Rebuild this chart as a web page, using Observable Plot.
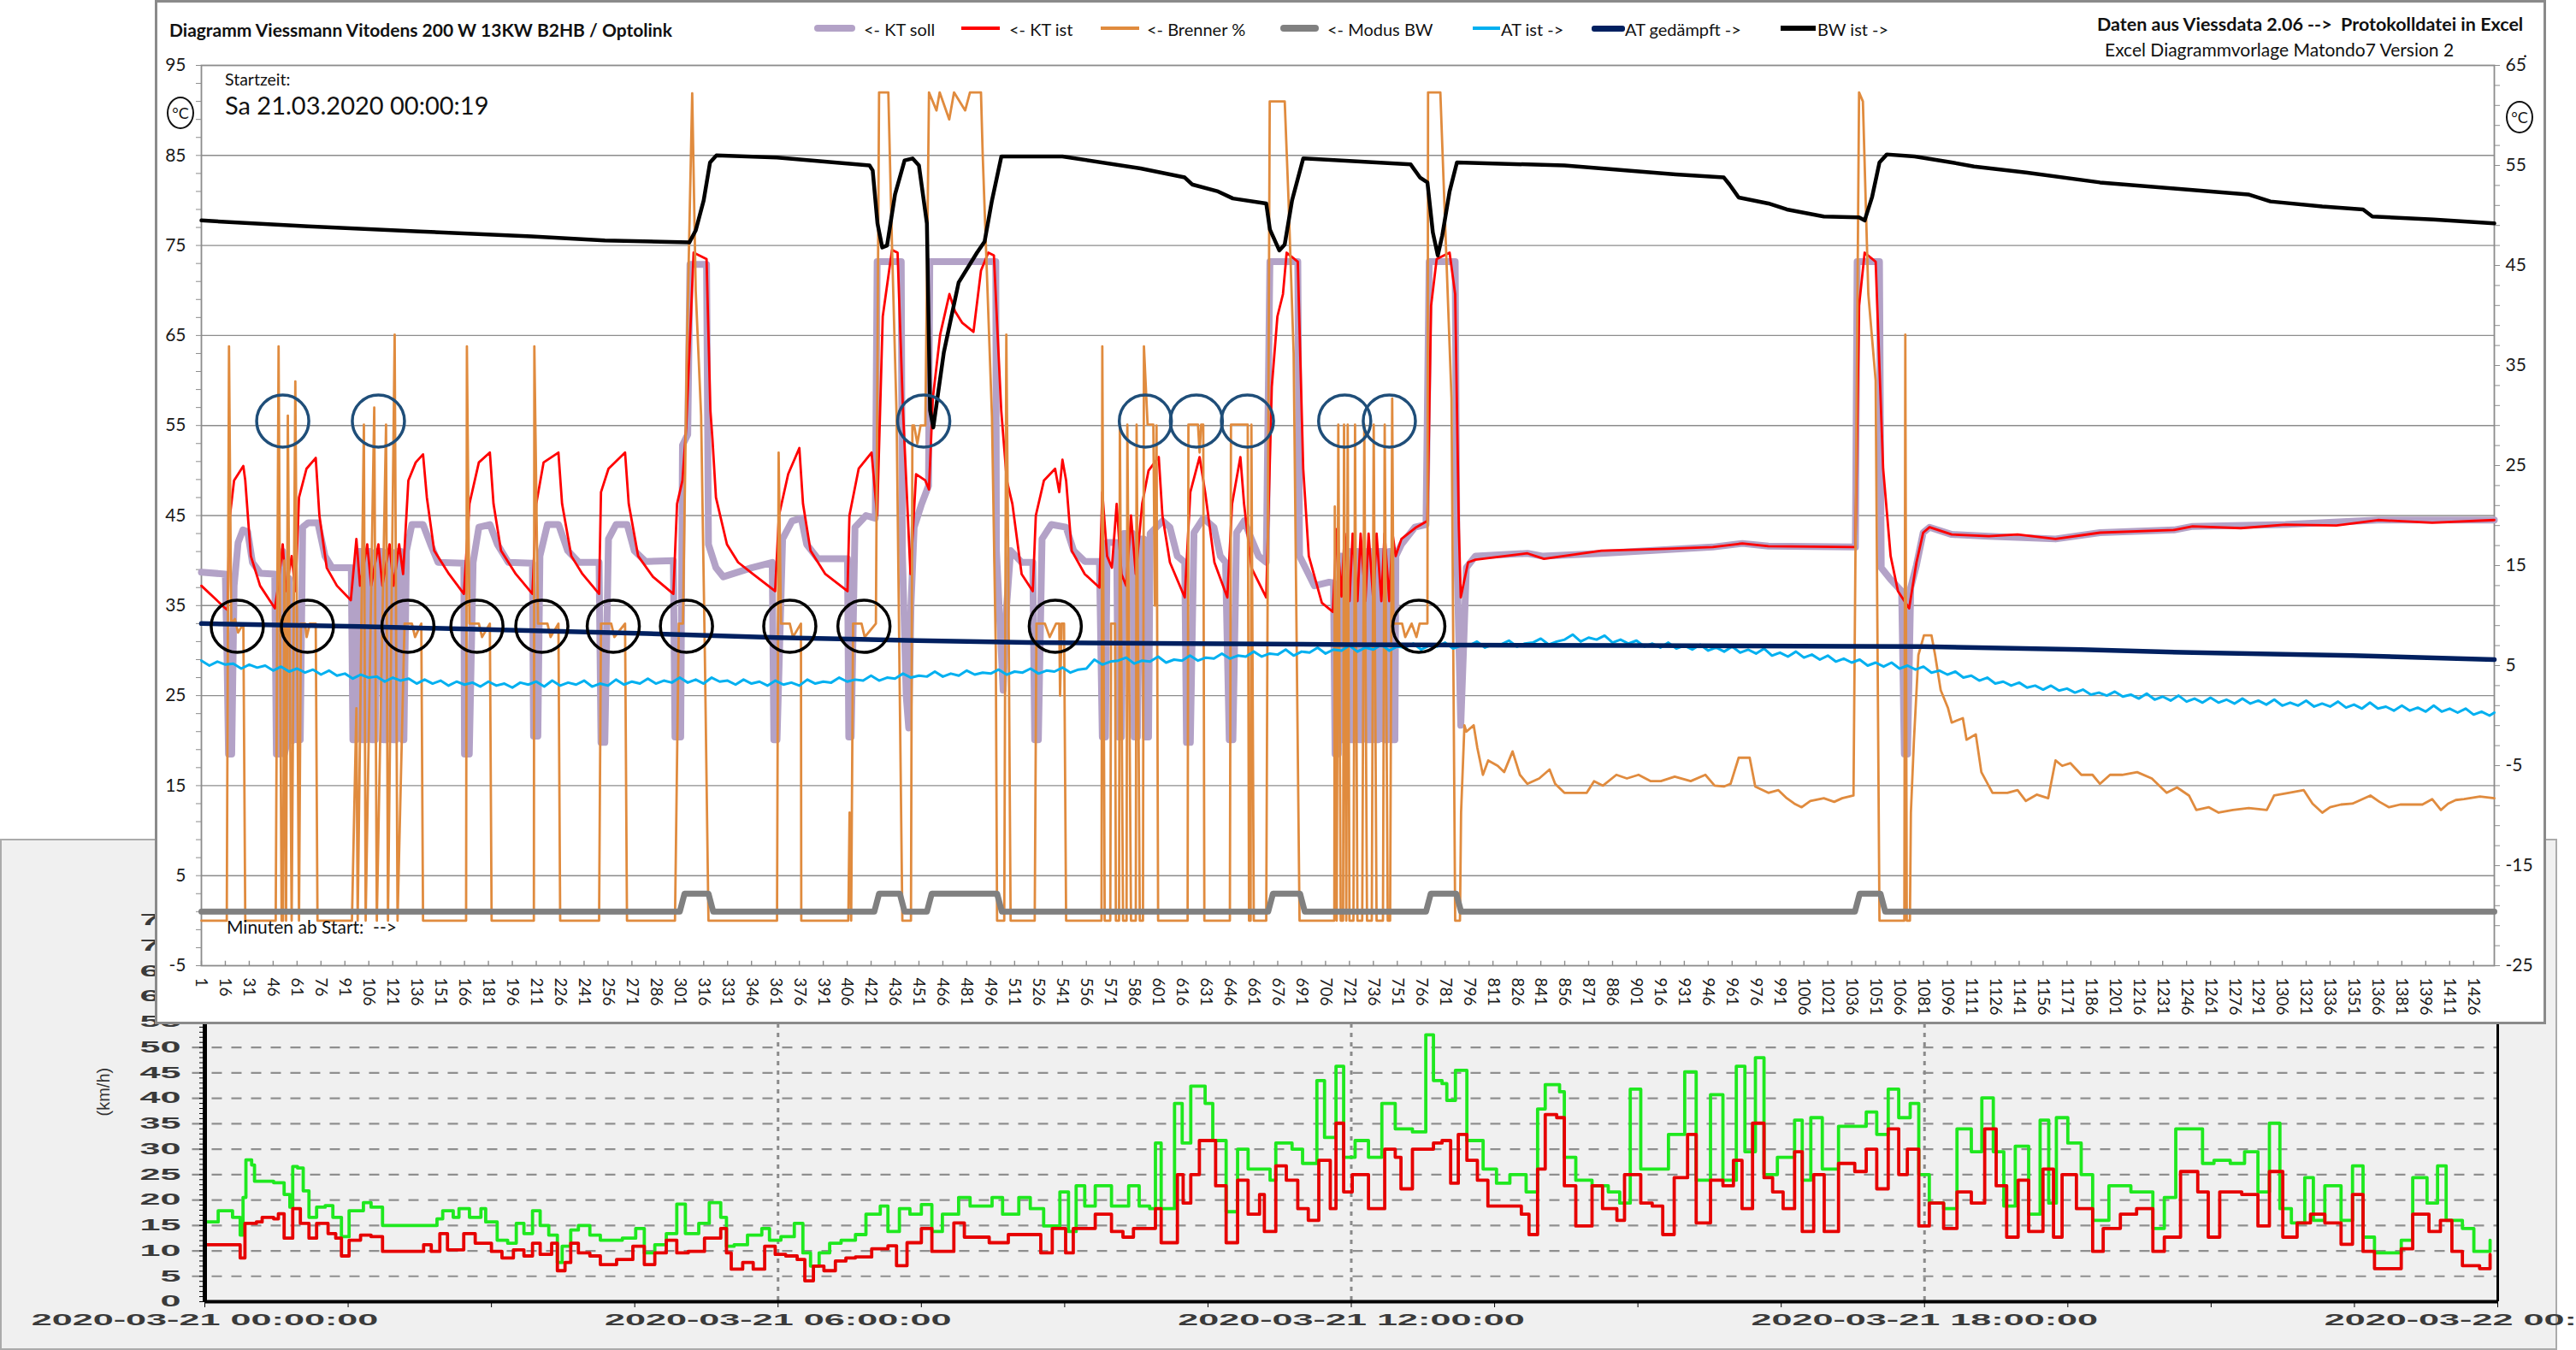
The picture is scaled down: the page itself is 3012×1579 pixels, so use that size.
<!DOCTYPE html>
<html><head><meta charset="utf-8">
<script src="https://cdn.jsdelivr.net/npm/d3@7"></script>
<script src="https://cdn.jsdelivr.net/npm/@observablehq/plot@0.6"></script>
<style>
body{margin:0;background:#fff}
#page{position:relative;width:3012px;height:1579px;overflow:hidden;background:#fff}
.t{position:absolute;white-space:pre;transform:translateY(-50%);font-family:Lato,"Open Sans",sans-serif;color:#111;line-height:1}
.sw{position:absolute}
.deg{position:absolute;width:32px;height:38px;border:2px solid #111;border-radius:50%;display:flex;align-items:center;justify-content:center;font-family:Lato,sans-serif;font-size:18px;color:#111;box-sizing:border-box}
</style></head><body>
<div id="page">
  <div style="position:absolute;left:0;top:981px;width:2986px;height:594px;background:#f0f0f0;border:2px solid #ababab"></div>
  <div id="wind" style="position:absolute;left:0;top:980px"></div>
  <div id="excel" style="position:absolute;left:181px;top:0;width:2796px;height:1198px;background:#fff"></div>
  <div style="position:absolute;left:181px;top:0;width:2796px;height:1198px;box-sizing:border-box;border:3px solid #8a8a8a;pointer-events:none"></div>

  <div class="t" style="left:198px;top:34px;font-size:21px;font-weight:bold">Diagramm Viessmann Vitodens 200 W 13KW B2HB / Optolink</div>

  <div class="sw" style="left:952px;top:29px;width:48px;height:8px;background:#b3a2c7;border-radius:4px"></div>
  <div class="t" style="left:1010px;top:34px;font-size:20px">&lt;- KT soll</div>
  <div class="sw" style="left:1124px;top:31px;width:45px;height:4px;background:#ff0000"></div>
  <div class="t" style="left:1180px;top:34px;font-size:20px">&lt;- KT ist</div>
  <div class="sw" style="left:1287px;top:31px;width:45px;height:4px;background:#e08b3e"></div>
  <div class="t" style="left:1341px;top:34px;font-size:20px">&lt;- Brenner %</div>
  <div class="sw" style="left:1497px;top:29px;width:45px;height:8px;background:#808080;border-radius:4px"></div>
  <div class="t" style="left:1552px;top:34px;font-size:20px">&lt;- Modus BW</div>
  <div class="sw" style="left:1722px;top:31px;width:32px;height:4px;background:#00b0f0"></div>
  <div class="t" style="left:1755px;top:34px;font-size:20px">AT ist -&gt;</div>
  <div class="sw" style="left:1861px;top:30px;width:39px;height:7px;background:#002060;border-radius:3px"></div>
  <div class="t" style="left:1900px;top:34px;font-size:20px">AT gedämpft -&gt;</div>
  <div class="sw" style="left:2082px;top:30px;width:41px;height:6px;background:#000"></div>
  <div class="t" style="left:2125px;top:34px;font-size:20px">BW ist -&gt;</div>

  <div class="t" style="left:2452px;top:29px;font-size:21.5px;font-weight:bold">Daten aus Viessdata 2.06 --&gt;  Protokolldatei in Excel</div>
  <div class="t" style="left:2461px;top:57px;font-size:21px">Excel Diagrammvorlage Matondo7 Version 2</div>
  <div class="t" style="left:2950px;top:58px;font-size:21px">.</div>

  <div class="t" style="left:263px;top:93px;font-size:19.5px">Startzeit:</div>
  <div class="t" style="left:263px;top:122px;font-size:29px">Sa 21.03.2020 00:00:19</div>
  <div class="t" style="left:265px;top:1083px;font-size:21px">Minuten ab Start:  --&gt;</div>
  <div class="deg" style="left:195px;top:113px">°C</div>
  <div class="deg" style="left:2930px;top:118px">°C</div>
</div>
<script>
// ---------- Heizung (Minuten ab Start) ----------
const minuteTicks = d3.range(1, 1440, 15);
const leftTicks = d3.range(-5, 96, 2);
const rightTicks = d3.range(-25, 66, 2);
const leftGrid = [5, 15, 25, 35, 45, 55, 65, 75, 85];

const ktSoll = [[1,38.7],[16,38.5],[17,30],[18,18.5],[20,18.5],[21.5,37.2],[24,42],[27,43.4],[30,43.2],[33,39.8],[38,38.6],[47,38.5],
[48,18.5],[50,18.5],[51,30],[52,41],[53,18.5],[55,20],[56,38],[57,20],[58,20],[60,35],[61,20.1],[63,20.1],[64.5,43.7],[68,44.2],[74,44.2],[78.5,40.5],[83,39.2],[95,39.2],
[96,20.1],[98,20.1],[99,41],[101,41],[102,20.1],[104,20.1],[105,41],[107,41],[108,20.1],[110,20.1],[111,41],[114,41],[115,20.1],[117,20.1],[118,41],[120,41],[121,20.1],[123,20.1],[124,41],[126,41],[127,20.1],[128,20.1],[129.6,41.1],[133,44],[140,44],[144.7,41.8],[149.4,39.8],[165.6,39.7],
[166,18.5],[169,18.5],[171.4,39.8],[175,43.7],[182,44],[186.6,41.8],[193.5,39.8],[208.6,39.7],
[209.3,20.5],[212,20.5],[213.3,40.5],[218,44],[225,44],[230.7,41.1],[237.7,39.8],[250.4,39.8],
[251.6,19.8],[254,19.8],[256.3,42.4],[261,44],[268,44],[272.5,41.1],[279.5,39.9],[297,40],
[298,20.4],[301.6,20.4],[302.7,52.8],[306,54],[307.4,72.9],[317.8,72.9],[319,41.8],[323.7,39.2],[328.3,38.2],[346,39.2],[359,39.8],
[360,20.1],[362,20.1],[365.5,42.4],[371.4,44.4],[377.2,44.7],[380.6,41.8],[387.6,40.2],[406.2,40.2],
[407,20.4],[408.5,20.4],[410.9,43.7],[417.8,45],[423.6,44.7],[424.8,73.2],[439.9,73.2],[440.6,41.1],[443,25],[444.6,21.4],[446,35],[448,43.7],[452.7,46.3],[457,48.3],[457.8,73.2],[499.2,73.2],[499.6,41.1],[503.8,25.6],[506,35],[508.5,41.1],[515.4,39.8],[522.4,39.8],
[523.6,20.1],[525.9,20.1],[528.2,42.4],[534,44],[543.3,43.7],[548,41.1],[555,39.9],[564.2,39.9],
[566,20.4],[568,20.4],[569,42],[575,42],[576,20.4],[578,20.4],[579.5,43],[585,43],[586,20.4],[588,20.4],[589,42.4],[592,42.4],[593,20.4],[595,20.4],[596,43],[603.8,44.4],[608.4,43.7],[613,40.5],[617.7,39.8],
[618.8,19.8],[621.2,19.8],[623.5,43.1],[629.3,44.7],[636,43.7],[640,40.5],[643.3,39.8],
[645.6,20.1],[647.9,20.1],[650.2,43.1],[654.9,44.4],[659.5,42.4],[664,40.5],[668.8,39.8],
[671.1,73.2],[688.6,73.2],[689.7,40.5],[699,37.2],[708.3,37.6],[711,37.5],
[712,18.5],[714,18.5],[715,40.5],[716,40.5],[717,20.1],[719,20.1],[720,41],[721,41],[722,20.1],[724,20.1],[725,41],[726,41],[727,20.1],[729,20.1],[730,41],[731,41],[732,20.1],[734,20.1],[735,41],[736,41],[737,20.1],[739,20.1],[740,41],[742,41],[743,20.1],[745,20.1],[746,41],[747,41],[748,20.1],[749.5,20.1],
[750.1,40.5],[753.6,41.8],[762,43.7],[769,44],[771,73.2],[787.3,73.2],[788.4,40.5],[790.8,21.7],[792.5,30],[794.3,39.2],[800,40.5],[832.6,40.8],[841.9,40.5],[879,40.8],[948.8,41.5],[967.4,41.9],[983.7,41.6],[1038.3,41.5],
[1039.4,73.2],[1053.4,73.2],[1054.5,39.2],[1060.4,37.9],[1067.3,36.6],[1069,18.5],[1071,18.5],[1073,37],[1076.6,39.5],[1080.8,43.1],
[1084.8,43.7],[1098.7,42.9],[1122,42.7],[1163.8,42.4],[1191.7,43.1],[1238.2,43.4],[1249.8,43.8],[1308,44],[1366,44.5],[1439,44.5]];

const ktIst = [[1,37.2],[16,34.7],[17.5,34.5],[18.5,44.4],[21.5,48.9],[27.3,50.5],[28.5,48.9],[32,40.5],[37.8,37.2],[47.1,34.7],
[49,37],[52,41.8],[54,36.6],[57.6,40.5],[60,36.6],[62.2,47],[66.9,50.2],[72.7,51.4],[75,45],[79.6,39.2],[86,37.2],[94.7,35.6],
[98.2,42.4],[100.5,37.2],[105,41.8],[107.5,37.2],[112,41.8],[114.5,37.2],[119,41.8],[121.5,37.2],[125,41.8],[127.5,38.5],[130.8,48.9],[135.4,50.9],[140,51.8],[142.4,47],[147,41.1],[156.3,38.5],[165.6,36.3],
[169.1,46.3],[175,50.9],[181.9,52],[184.2,46.3],[188.9,41.1],[198.2,38.5],[208.6,36.3],
[211,46.3],[215.6,50.9],[224.9,52],[227.2,46.3],[233,40.5],[240,38.5],[250.4,36.3],
[251.6,47.6],[256.3,50.2],[266.7,52],[269,46.3],[274.9,40.5],[284.2,38.2],[297,36.3],
[299.3,46.3],[302.7,48.9],[305,54.7],[309.7,74.2],[317.8,73.5],[320.2,56.7],[321.5,53.5],[323.7,47],[330.6,41.8],[337.6,39.8],[346.9,38.5],[360.8,36.6],
[363.2,45],[369,49.6],[376,52.5],[378.3,46.3],[383,41.1],[392.3,38.5],[406.2,36.6],
[407.4,45],[413.2,50.2],[421.3,52],[424.8,45],[428.3,67.1],[434.1,74.5],[437.6,74.2],[441,56.7],[445.7,38.5],[449.2,49.6],[455,48.9],[457.3,47.9],[459.7,58],[464.3,65.1],[470.1,69.6],[473.6,67.7],[478.2,66.4],[485.2,65.4],[489.9,72.2],[494.5,74.2],[498,73.9],[502.6,56.7],[506.1,48.9],[509.6,46.3],[515.4,38.5],[522.4,36.6],
[524.3,45],[529.4,48.9],[536.4,50.2],[539,47.6],[541,51.2],[543.3,48.9],[546.8,41.1],[555,38.5],[564.2,37],
[566,47.6],[569,40.5],[572,39.2],[575,46.3],[578,38.5],[581,37.2],[584,45],[587,38.5],[591,46.3],[595,50],[601.4,51.5],[603.7,45],[608.4,39.8],[617.7,35.9],
[621.2,47.6],[627,51.5],[630.5,47.6],[636.3,39.8],[644.4,35.9],
[647.4,46.3],[652.6,51.5],[654.9,46.3],[659.5,39.2],[668.8,35.9],
[672.3,59.3],[675.8,67.1],[679.3,69.6],[681.6,74.2],[688.6,73.2],[692,50.2],[695.5,40.5],[703.7,35.3],[710.6,34.3],
[713,43.5],[716,36],[718,43],[721,35.5],[723,43],[726,35.5],[728,43],[731,35.5],[733,43],[736,35.5],[738,43],[741,35.5],[743,43],[746,35.5],[748,43],[750,40.5],[753.6,42.4],[762.9,43.7],[769.9,44.4],
[772.2,68.3],[775.7,73.5],[783.8,74.2],[787.3,69.6],[789.6,43.7],[790.8,35.9],[795.4,39.8],[800,40.1],[832.6,40.8],[843,40.2],[879,41.1],[920,41.3],[948.8,41.5],[967.4,41.9],[983.7,41.6],[1038.3,41.5],
[1040.6,68.3],[1044.1,74.2],[1051,73.2],[1055.7,50.2],[1060.4,40.5],[1065,36.6],[1072,34.7],[1076.6,39.8],[1080.8,43.1],
[1084.8,43.7],[1098.7,42.9],[1122,42.7],[1140,42.9],[1163.8,42.4],[1191.7,43.1],[1238.2,43.4],[1249.8,43.8],[1280,43.6],[1308,44],[1340,43.9],[1366,44.5],[1400,44.2],[1439,44.5]];

const brenner = [[1,0],[16.9,0],[18.3,63.8],[19.7,33],[22,33.5],[24,32],[27.3,33],[28.5,0],
[47.6,0],[49.4,63.8],[51.3,0],[52.2,0],[53,40],[54.1,0],[55.2,56.1],[57.6,0],[59.9,59.9],[62.2,0],[63.4,33],[66,33],[67,31.5],[69,33],[72.7,33],[73.8,0],
[95.4,0],[98.2,23.6],[99,0],[102.9,55.1],[104,0],[109.4,57],[111,0],[116.8,55.1],[118,0],[122.2,65.1],[124,0],[128.4,33],[133,33],[135,31.5],[138.9,33],[140,0],
[167,0],[167.5,63.8],[169.1,33],[175,33],[177,31.5],[181.9,33],[183,0],
[209.5,0],[209.8,63.8],[212.1,33],[218,33],[220,31.5],[224.9,33],[226,0],
[250.4,0],[251.6,33],[258,33],[260,31.5],[266.7,33],[267.9,0],
[298,0],[300.4,33],[303,33],[305.5,63.8],[308.8,91.9],[311,70],[314.4,56.1],[316.7,30],[319,0],
[362,0],[363,52],[364.5,33],[370,33],[372,31.5],[377,33],[377.2,0],
[406.7,0],[407.5,12],[408.5,0],[409.7,33],[415,33],[417,31.5],[424,33],[426,92],[431.8,92],[434.1,75],[437,56],[440.6,0],
[446,0],[446.9,55],[448,55],[450,53],[452,55],[455,55],[457.3,92],[462,90],[464,92],[470,89],[473,92],[480,90],[483,92],[489.9,92],[491,85],[496.8,56],[499.2,30],[500,0],
[504.5,0],[505.8,65.1],[507,40],[508.5,0],
[523.6,0],[524.7,33],[530,33],[533,31.5],[537,33],[539,33],[539.5,25],[540.5,33],[542,33],[543.3,0],
[565.5,0],[566,63.8],[567.5,0],[571,0],[571.5,33],[574,33],[574.5,0],[576.5,0],[577,55.1],[579,0],[581.2,0],[581.7,55.1],[584,0],[587,0],[587.5,55.1],[589.5,0],[591.5,0],[592.1,63.8],[594.4,55.1],[598,55.1],[599,35],[600,55],[601,0],
[619.5,0],[620,55.1],[626,55.1],[627,52],[628,55.1],[629.3,55.1],[630,0],
[646,0],[646.7,55.1],[652,55.1],[657.2,55.1],[658,0],[659,0],[659.5,55.1],[661,0],
[668.8,0],[671,91],[674.6,91],[680.4,91],[682.8,80],[686,63],[689.7,0],
[711.5,0],[711.8,46],[713,0],[714,55.1],[715.5,0],[717,0],[717.6,55.1],[719,0],
[719.9,55.1],[721,0],[723.5,0],[724.5,55.1],[726,0],[729,0],[730.3,55.1],[732,0],[735,0],[736.2,55.1],[738,0],[742,0],[743.1,55.1],[745,0],[746.5,0],[747.8,58],
[748.6,33],[754,33],[756,31.5],[760,33],[763,31.5],[765,33],[769.9,33],[770.3,92],[778,92],[785,58],[787.3,0],[790.3,0],[791,12],[793.1,21.7],[794.3,21],[798.9,21.7],[801.2,19.2],[804.7,16.2],[808,17.8],[814,17.2],[818,16.5],[823.3,18.8],[827.9,16.2],[832.6,15.2],[840,15.8],[846.5,16.8],[850,15.2],[855.8,14.2],[862,14.2],[869.8,14.2],[874.4,15.5],[880,15],[888.4,16.2],[895,15.8],[902.3,16.2],[910,15.5],[916.3,15.5],[925,16],[935,15.5],[944.2,16.2],[950,15],[955.8,14.9],[960,15.2],[965.1,18.1],[972,18.1],[975.5,14.9],[983.7,14.2],[990,14.5],[995.3,13.6],[1000,13],[1004.6,12.6],[1010,13.3],[1018.5,13.6],[1025,13.2],[1030,13.6],[1037.1,13.9],
[1038.3,40],[1040.6,92],[1043,91],[1046.4,69.6],[1051,60],[1053.4,0],[1069,0],[1069.6,65.1],[1070.5,0],[1072.5,0],[1073.1,12],[1075,20],[1077.8,29.5],
[1081.3,31.7],[1086,31.7],[1088.3,29.5],[1091.8,25.6],[1096.4,23.6],[1098.7,22],[1105.7,22.5],[1108,20.1],[1113.8,20.7],[1117.3,16.5],[1124.3,14.2],[1133.6,14.2],[1140,14.5],[1145.2,13.3],[1152,14],[1159.2,13.6],[1163.8,17.8],[1168,17.2],[1173.1,17.5],[1180,16.2],[1187,16.2],[1191.7,15.2],[1198,16.2],[1205.6,16.2],[1215,16.5],[1224.2,15.8],[1233.5,14.2],[1240,14.8],[1247.5,13.9],[1252.1,12.3],[1260,12.6],[1266.1,12],[1275,12.3],[1285,12.5],[1296.3,12.3],[1300.9,13.9],[1310,14.2],[1319.5,14.5],[1325,13],[1331.1,12],[1336,12.6],[1342.8,12.9],[1350,13],[1361.3,13.9],[1367,13.2],[1373,12.6],[1380,12.9],[1393.9,12.9],[1400,13.5],[1405.5,12.3],[1410,13],[1414.8,13.4],[1420,13.5],[1430,13.8],[1439,13.6]];

const modusBW = [[1,1],[301,1],[304,3],[319,3],[322,1],[423,1],[426,3],[439,3],[442,1],[456,1],[459,3],[500,3],[503,1],[670,1],[673,3],[690,3],[693,1],[769,1],[772,3],[788,3],[791,1],[1038,1],[1041,3],[1054,3],[1057,1],[1439,1]];

const atIst = [[1,5.5],[6,5.0],[11,5.4],[16,5.1],[21,5.2],[26,4.7],[31,5.1],[36,4.8],[41,5.0],[46,4.5],[51,4.9],[56,4.4],[61,4.7],[66,4.3],[71,4.6],[76,4.1],[81,4.5],[86,4.0],[91,4.2],[96,3.7],[101,4.1],[106,3.8],[111,3.9],[116,3.4],[121,3.8],[126,3.5],[131,3.7],[136,3.2],[141,3.6],[146,3.2],[151,3.5],[156,3.0],[161,3.4],[166,3.1],[171,3.3],[176,2.9],[181,3.4],[186,3.0],[191,3.2],[196,2.8],[201,3.3],[206,3.1],[211,3.4],[216,2.9],[221,3.5],[226,3.0],[231,3.3],[236,3.1],[241,3.5],[246,2.9],[251,3.2],[256,3.0],[261,3.6],[266,3.1],[271,3.4],[276,3.2],[281,3.7],[286,3.2],[291,3.5],[296,3.3],[301,3.8],[306,3.3],[311,3.6],[316,3.2],[321,3.8],[326,3.4],[331,3.5],[336,3.1],[341,3.6],[346,3.2],[351,3.4],[356,3.0],[361,3.5],[366,3.1],[371,3.3],[376,3.0],[381,3.6],[386,3.2],[391,3.4],[396,3.3],[401,3.8],[406,3.4],[411,3.6],[416,3.5],[421,4.0],[426,3.5],[431,3.8],[436,3.7],[441,4.2],[446,3.8],[451,4.0],[456,3.9],[461,4.4],[466,3.9],[471,4.2],[476,4.0],[481,4.5],[486,4.1],[491,4.3],[496,4.2],[501,4.6],[506,4.1],[511,4.4],[516,4.3],[521,4.7],[526,4.2],[531,4.5],[536,4.4],[541,4.8],[546,4.3],[551,4.6],[556,4.7],[561,5.6],[566,5.1],[571,5.4],[576,5.5],[581,5.8],[586,5.2],[591,5.5],[596,5.4],[601,5.9],[606,5.3],[611,5.6],[616,5.5],[621,6.0],[626,5.5],[631,5.8],[636,5.7],[641,6.2],[646,5.7],[651,6.0],[656,5.9],[661,6.4],[666,5.9],[671,6.2],[676,6.1],[681,6.6],[686,6.0],[691,6.4],[696,6.3],[701,6.8],[706,6.2],[711,6.6],[716,6.5],[721,7.0],[726,6.4],[731,6.8],[736,6.6],[741,7.1],[746,6.5],[751,6.9],[756,6.8],[761,7.2],[766,6.6],[771,7.0],[776,6.9],[781,7.3],[786,6.7],[791,7.0],[796,7.0],[801,7.4],[806,6.8],[811,7.1],[816,7.1],[821,7.5],[826,6.9],[831,7.2],[836,7.3],[841,7.7],[846,7.1],[851,7.4],[856,7.6],[861,8.1],[866,7.4],[871,7.8],[876,7.6],[881,8.0],[886,7.3],[891,7.6],[896,7.2],[901,7.5],[906,6.9],[911,7.2],[916,6.8],[921,7.3],[926,6.7],[931,7.0],[936,6.6],[941,7.1],[946,6.5],[951,6.8],[956,6.4],[961,6.9],[966,6.3],[971,6.6],[976,6.2],[981,6.7],[986,6.0],[991,6.3],[996,5.9],[1001,6.4],[1006,5.8],[1011,6.1],[1016,5.6],[1021,6.0],[1026,5.4],[1031,5.7],[1036,5.3],[1041,5.6],[1046,5.0],[1051,5.3],[1056,4.9],[1061,5.3],[1066,4.7],[1071,5.0],[1076,4.6],[1081,4.9],[1086,4.3],[1091,4.5],[1096,4.1],[1101,4.4],[1106,3.8],[1111,4.0],[1116,3.5],[1121,3.8],[1126,3.2],[1131,3.4],[1136,3.0],[1141,3.3],[1146,2.8],[1151,3.0],[1156,2.6],[1161,3.0],[1166,2.5],[1171,2.7],[1176,2.3],[1181,2.6],[1186,2.1],[1191,2.3],[1196,2.0],[1201,2.4],[1206,1.9],[1211,2.1],[1216,1.7],[1221,2.2],[1226,1.6],[1231,1.9],[1236,1.5],[1241,2.0],[1246,1.4],[1251,1.7],[1256,1.3],[1261,1.8],[1266,1.3],[1271,1.6],[1276,1.2],[1281,1.7],[1286,1.2],[1291,1.5],[1296,1.1],[1301,1.6],[1306,1.0],[1311,1.3],[1316,1.0],[1321,1.5],[1326,0.9],[1331,1.2],[1336,0.9],[1341,1.4],[1346,0.8],[1351,1.1],[1356,0.7],[1361,1.3],[1366,0.7],[1371,0.9],[1376,0.5],[1381,1.0],[1386,0.5],[1391,0.8],[1396,0.4],[1401,1.0],[1406,0.4],[1411,0.7],[1416,0.3],[1421,0.7],[1426,0.1],[1431,0.4],[1436,0.0],[1439,0.3]];

const atGedaempft = [[1,9.2],[100,8.9],[184,8.6],[280,8.2],[362,7.8],[450,7.5],[520,7.3],[620,7.2],[722,7.1],[900,7.0],[1080,6.9],[1180,6.6],[1250,6.3],[1350,6.0],[1439,5.6]];

const bwIst = [[1,49.5],[68,48.9],[138,48.4],[208,47.9],[254,47.5],[307,47.3],[311,48.5],[316,51.5],[320,55.3],[324,56.0],[362,55.8],[420,55.0],[422,54.5],[425,49.2],[428,46.8],[431,47.0],[436,52.1],[442,55.5],[447,55.7],[451,55.0],[456,49.2],[457.5,35],[458,30.5],[460,28.8],[466.6,36.3],[475.9,43.3],[487.5,46.3],[492.2,47.4],[496.8,51.5],[502.7,55.9],[541,55.9],[590,54.7],[617.7,53.8],[622.3,53.1],[638.6,52.4],[647.9,51.7],[668.8,51.2],[671.1,48.6],[677,46.5],[680.4,47.1],[685,51.5],[692,55.7],[759.4,55.1],[765.2,53.8],[769.9,53.3],[773.3,48.3],[776.4,46.0],[779.2,48.0],[783.8,52.4],[788.4,55.3],[855.8,55.0],[925.6,54.1],[955.8,53.8],[959.3,53.1],[965.1,51.8],[983.7,51.2],[995.3,50.6],[1018.5,49.9],[1040.6,49.8],[1044.1,49.5],[1048.7,51.8],[1053.4,55.3],[1058,56.1],[1075.5,55.9],[1098.7,55.3],[1112.7,54.9],[1145.2,54.3],[1191.7,53.3],[1238.2,52.7],[1284.7,52.1],[1298.6,51.4],[1331.1,50.9],[1356.7,50.6],[1362.5,49.9],[1400.9,49.6],[1439,49.2]];

const navyRings = [52, 112, 454, 593, 625, 657, 718, 746];
const navyRingLevel = 55.5;
const blackRings = [23.5, 67.5, 130.5, 173.8, 214.5, 259.3, 305.2, 370, 416.5, 536.5, 764.5];
const blackRingLevel = 32.7;

// ---------- Wind (Stunden ab 2020-03-21 00:00) ----------
const windXTicks = d3.range(0, 24.01, 1.5);
const windYTicks = d3.range(0, 76, 5);
const windYMinor = d3.range(0, 76, 1);
const windVGrid = [6, 12, 18];
const windLabels = {0: "2020-03-21 00:00:00", 6: "2020-03-21 06:00:00", 12: "2020-03-21 12:00:00", 18: "2020-03-21 18:00:00", 24: "2020-03-22 00:00:00"};

const gust = [[0,15.7],[0.14,17.9],[0.29,16.6],[0.37,13.1],[0.40,20.5],[0.43,27.9],[0.49,26.9],[0.52,23.7],[0.72,23.4],[0.83,21.1],[0.89,18.6],[0.92,26.6],[0.97,26.3],[1.03,21.8],[1.09,16.6],[1.17,18.6],[1.26,18.9],[1.34,16.6],[1.43,12.8],[1.51,17.9],[1.66,19.5],[1.74,18.6],[1.86,15.0],[2.2,15.0],[2.43,16.3],[2.49,17.9],[2.6,16.6],[2.66,18.3],[2.77,16.6],[2.89,18.3],[2.94,15.7],[3.06,12.1],[3.17,11.5],[3.26,15.4],[3.34,13.4],[3.43,17.9],[3.51,15.0],[3.6,13.1],[3.69,7.7],[3.74,10.9],[3.83,14.1],[3.91,15.0],[4.03,13.1],[4.14,12.1],[4.37,12.5],[4.51,14.4],[4.6,9.6],[4.71,11.2],[4.83,13.4],[4.94,19.2],[5.03,13.4],[5.17,15.4],[5.28,19.5],[5.4,16.6],[5.46,10.9],[5.54,11.2],[5.68,13.1],[5.83,14.4],[5.91,12.1],[6.03,12.8],[6.17,15.4],[6.26,9.6],[6.34,7.0],[6.43,9.6],[6.54,11.5],[6.66,12.1],[6.81,13.2],
[6.92,17.2],[7.07,18.8],[7.15,13.8],[7.27,18.3],[7.38,17.2],[7.5,19.1],[7.61,13.8],[7.72,17.2],[7.89,20.5],[8.01,18.8],[8.24,20.5],[8.35,17.2],[8.52,20.5],[8.64,18.3],[8.78,14.9],[8.95,21.6],[9.04,13.8],[9.12,22.8],[9.21,18.8],[9.32,22.8],[9.49,18.8],[9.67,22.8],[9.78,18.8],[9.89,18.3],[9.95,31.2],[10.01,18.3],[10.15,39.0],[10.23,31.2],[10.32,42.4],[10.47,39.0],[10.55,31.7],[10.69,17.7],[10.81,30.0],[10.92,26.1],[11.04,26.1],[11.15,23.9],[11.21,31.2],[11.38,30.0],[11.49,27.2],[11.64,43.5],[11.72,32.3],[11.84,46.3],[11.92,28.4],[12.04,31.7],[12.18,28.4],[12.32,39.0],[12.46,34.0],[12.64,33.4],[12.78,52.5],[12.86,43.5],[12.95,42.9],[13.0,39.6],[13.09,45.5],[13.21,31.7],[13.38,26.1],[13.52,23.3],[13.66,25.0],[13.83,21.6],[13.95,37.9],[14.03,42.7],[14.18,41.3],[14.23,28.4],[14.35,23.9],[14.52,22.8],[14.69,21.6],[14.81,19.4],[14.92,41.8],[15.03,26.1],[15.2,26.1],[15.32,32.9],[15.49,45.2],[15.61,23.9],[15.76,40.7],
[15.89,23.9],[16.03,46.3],[16.12,29.5],[16.23,48.0],[16.32,25.0],[16.46,28.4],[16.64,35.7],[16.72,23.9],[16.81,36.2],[16.93,26.1],[17.1,34.5],[17.27,34.5],[17.39,37.3],[17.5,32.9],[17.62,41.8],[17.73,36.2],[17.85,39.0],[17.94,25.0],[18.05,19.4],[18.2,18.3],[18.34,34.0],[18.49,29.5],[18.6,40.1],[18.72,29.5],[18.83,18.8],[18.95,30.6],[19.09,17.2],[19.21,35.7],[19.3,19.4],[19.38,36.2],[19.5,31.2],[19.64,25.0],[19.76,16.0],[19.93,22.8],[20.16,21.6],[20.39,14.4],[20.51,20.5],[20.63,34.0],[20.8,34.0],[20.91,27.2],[21.03,27.8],[21.2,27.2],[21.35,29.5],[21.49,21.6],[21.61,35.1],[21.72,18.3],[21.84,15.5],[21.98,24.4],[22.07,16.0],[22.19,22.8],[22.36,16.0],[22.48,26.7],[22.59,12.7],[22.71,9.6],[22.88,9.6],[22.99,12.1],[23.11,24.4],[23.26,19.4],[23.37,26.7],[23.46,16.0],[23.63,14.4],[23.75,9.9],[23.92,12.1]];

const mean = [[0,11.2],[0.32,11.2],[0.37,8.6],[0.42,15.4],[0.54,15.7],[0.6,16.6],[0.72,16.3],[0.77,17.3],[0.83,12.5],[0.92,18.3],[1.0,15.4],[1.09,12.5],[1.17,15.4],[1.29,13.4],[1.37,12.5],[1.43,9.0],[1.51,12.1],[1.63,13.1],[1.74,12.8],[1.86,9.9],[2.2,9.9],[2.29,11.2],[2.37,9.9],[2.46,13.4],[2.54,10.2],[2.71,13.4],[2.83,11.5],[3.0,9.9],[3.11,8.6],[3.23,10.2],[3.34,9.0],[3.43,11.5],[3.51,9.3],[3.63,11.5],[3.69,6.1],[3.77,7.7],[3.83,11.5],[3.91,9.6],[4.03,9.0],[4.14,7.3],[4.31,8.3],[4.48,10.9],[4.6,7.3],[4.71,9.6],[4.83,12.1],[4.94,9.6],[5.06,9.9],[5.23,12.5],[5.4,14.4],[5.46,9.6],[5.51,6.4],[5.63,7.7],[5.74,6.4],[5.86,10.9],[5.97,9.3],[6.08,9.0],[6.2,8.3],[6.28,4.1],[6.37,7.0],[6.48,6.1],[6.6,8.0],[6.71,8.6],[6.81,8.8],
[6.98,10.4],[7.15,11.0],[7.24,7.1],[7.35,11.6],[7.5,14.4],[7.61,9.9],[7.84,15.5],[7.95,12.7],[8.12,12.7],[8.21,11.6],[8.41,13.2],[8.64,13.2],[8.75,9.6],[8.87,14.4],[9.01,9.6],[9.09,14.4],[9.32,17.2],[9.49,13.8],[9.61,12.7],[9.72,14.4],[9.87,14.4],[9.95,18.3],[10.01,11.6],[10.15,11.6],[10.18,25.0],[10.24,19.4],[10.32,25.0],[10.41,31.7],[10.47,31.7],[10.58,22.8],[10.69,11.6],[10.81,23.9],[10.92,17.2],[11.04,21.1],[11.09,13.8],[11.21,26.7],[11.32,23.9],[11.44,18.3],[11.55,16.0],[11.66,27.8],[11.78,18.3],[11.84,35.1],[11.92,21.6],[12.01,25.0],[12.18,18.3],[12.35,30.0],[12.46,28.4],[12.52,22.2],[12.64,30.0],[12.86,31.2],[12.95,31.7],[13.04,23.3],[13.12,32.9],[13.21,27.8],[13.32,23.9],[13.43,18.8],[13.66,18.8],[13.78,17.2],[13.86,13.2],[13.95,26.1],[14.03,36.8],[14.15,36.2],[14.23,22.8],[14.35,14.9],[14.52,22.8],[14.63,18.3],[14.78,16.0],[14.86,25.0],[15.03,19.4],[15.15,18.8],[15.26,13.2],[15.38,24.4],[15.52,32.9],[15.61,15.5],[15.76,23.9],
[15.89,22.8],[16.0,27.8],[16.09,18.3],[16.2,35.1],[16.32,24.4],[16.41,21.6],[16.52,18.3],[16.64,29.5],[16.72,13.8],[16.84,25.0],[16.95,13.8],[17.1,27.2],[17.27,25.6],[17.39,30.0],[17.5,22.2],[17.62,34.0],[17.73,25.0],[17.82,30.0],[17.94,14.9],[18.05,19.4],[18.2,14.4],[18.34,21.6],[18.49,19.4],[18.63,34.0],[18.75,22.8],[18.86,12.7],[18.98,23.9],[19.09,13.8],[19.24,26.1],[19.35,12.7],[19.44,25.0],[19.59,18.3],[19.76,9.9],[19.87,14.4],[20.05,17.2],[20.22,18.3],[20.39,9.9],[20.51,12.7],[20.68,25.6],[20.86,21.6],[20.97,12.7],[21.09,21.6],[21.32,21.1],[21.49,14.9],[21.61,25.6],[21.75,12.7],[21.9,15.5],[22.04,17.2],[22.19,15.5],[22.36,11.3],[22.48,21.1],[22.59,9.9],[22.71,6.5],[22.88,6.5],[22.99,10.4],[23.11,17.2],[23.28,13.8],[23.4,16.0],[23.52,9.9],[23.63,7.1],[23.81,6.5],[23.92,9.3]];

// ---------- Heizungsdiagramm ----------
const toLeft = r => (r + 25) * 100 / 90 - 5;
const fromLeft = l => (l + 5) * 90 / 100 - 25;
const XY = {x: d => d[0], y: d => d[1]};
const XYR = {x: d => d[0], y: d => toLeft(d[1])};
const FONT = "Lato, 'Open Sans', sans-serif";

const main = Plot.plot({
  width: 2796, height: 1198,
  marginLeft: 54, marginRight: 61, marginTop: 76, marginBottom: 69,
  x: {domain: [1, 1439]},
  y: {domain: [-5, 95]},
  style: {fontFamily: FONT, background: "transparent", color: "#1a1a1a", overflow: "visible"},
  marks: [
    Plot.ruleY(leftGrid, {stroke: "#8c8c8c", strokeWidth: 1.4}),
    Plot.frame({stroke: "#8c8c8c", strokeWidth: 1.8}),
    Plot.ruleX(minuteTicks, {y1: -5, y2: -4.5, stroke: "#8c8c8c", strokeWidth: 1.4}),
    Plot.axisX({ticks: minuteTicks, tickSize: 0, tickRotate: 90, tickPadding: 14, fontSize: 19, label: null, tickFormat: d => String(d)}),
    Plot.axisY({anchor: "left", ticks: leftTicks, tickSize: 6, tickPadding: 12, fontSize: 21, label: null, stroke: "#8c8c8c",
      tickFormat: d => (d + 5) % 10 === 0 ? String(d) : ""}),
    Plot.axisY({anchor: "right", ticks: rightTicks.map(toLeft), tickSize: 6, tickPadding: 7, fontSize: 21, label: null, stroke: "#8c8c8c",
      tickFormat: d => { const r = Math.round(fromLeft(d)); return (r + 25) % 10 === 0 ? String(r) : ""; }}),
    Plot.line(ktSoll, {...XY, stroke: "#b3a2c7", strokeWidth: 8, strokeLinejoin: "round"}),
    Plot.line(ktIst, {...XY, stroke: "#ff0000", strokeWidth: 2.8}),
    Plot.line(brenner, {...XY, stroke: "#e08b3e", strokeWidth: 2.8}),
    Plot.line(modusBW, {...XY, stroke: "#808080", strokeWidth: 7}),
    Plot.line(atIst, {...XYR, stroke: "#00b0f0", strokeWidth: 3}),
    Plot.line(atGedaempft, {...XYR, stroke: "#002060", strokeWidth: 5.5}),
    Plot.line(bwIst, {...XYR, stroke: "#000", strokeWidth: 4.5}),
    Plot.dot(navyRings, {x: d => d, y: () => navyRingLevel, r: 30.5, stroke: "#1f4e79", strokeWidth: 3.5, fill: "none"}),
    Plot.dot(blackRings, {x: d => d, y: () => blackRingLevel, r: 30.5, stroke: "#000", strokeWidth: 3.5, fill: "none"})
  ]
});
document.getElementById("excel").appendChild(main);

// ---------- Windchart ----------
const wind = Plot.plot({
  width: 3012, height: 599,
  marginLeft: 239, marginRight: 92, marginTop: 96, marginBottom: 57,
  x: {domain: [0, 24]},
  y: {domain: [0, 75]},
  style: {fontFamily: "'Liberation Sans', Arial, sans-serif", background: "transparent", color: "#3a3a3a", overflow: "visible"},
  marks: [
    Plot.ruleY(windYTicks.filter(d => d > 0), {x1: -0.13, x2: 24, stroke: "#8f8f8f", strokeWidth: 2.2, strokeDasharray: "12,11"}),
    Plot.ruleX(windVGrid, {stroke: "#8a8a8a", strokeWidth: 3, strokeDasharray: "5,6"}),
    Plot.line(gust, {...XY, stroke: "#1fe81f", strokeWidth: 3.8, curve: "step-after"}),
    Plot.line(mean, {...XY, stroke: "#e60000", strokeWidth: 3.8, curve: "step-after"}),
    Plot.axisY({ticks: windYMinor, tickSize: 6, stroke: "#000", tickFormat: () => "", label: null}),
    Plot.axisY({ticks: windYTicks, tickSize: 0, tickPadding: 28, fontSize: 18, fontWeight: "bold", label: null, fill: "#3a3a3a"}),
    Plot.axisX({ticks: windXTicks, tickSize: 7, tickPadding: 8, fontSize: 18, fontWeight: "bold", label: null, stroke: "#000", fill: "#3a3a3a",
      tickFormat: d => windLabels[d] ?? ""}),
    Plot.ruleX([0], {stroke: "#000", strokeWidth: 5}),
    Plot.ruleX([24], {stroke: "#000", strokeWidth: 3}),
    Plot.ruleY([0], {stroke: "#000", strokeWidth: 4}),
    Plot.text(["(km/h)"], {frameAnchor: "left", dx: -118, dy: 6, rotate: -90, fontSize: 20, fill: "#333", ariaLabel: "unit"})
  ]
});
document.getElementById("wind").appendChild(wind);

function stretch(root, selector, s) {
  root.querySelectorAll(selector).forEach(t => {
    let ax = +(t.getAttribute("x") || 0);
    const tl = t.transform && t.transform.baseVal;
    if (tl && tl.numberOfItems) { const m = tl.consolidate().matrix; ax = m.e + m.a * ax; }
    const g = document.createElementNS("http://www.w3.org/2000/svg", "g");
    g.setAttribute("transform", `translate(${ax},0) scale(${s},1) translate(${-ax},0)`);
    t.parentNode.insertBefore(g, t);
    g.appendChild(t);
  });
}
stretch(wind, 'g[aria-label="y-axis tick label"] text, g[aria-label="x-axis tick label"] text', 2.4);
stretch(wind, 'g[aria-label="unit"] text', 1.9);
</script>
</body></html>
